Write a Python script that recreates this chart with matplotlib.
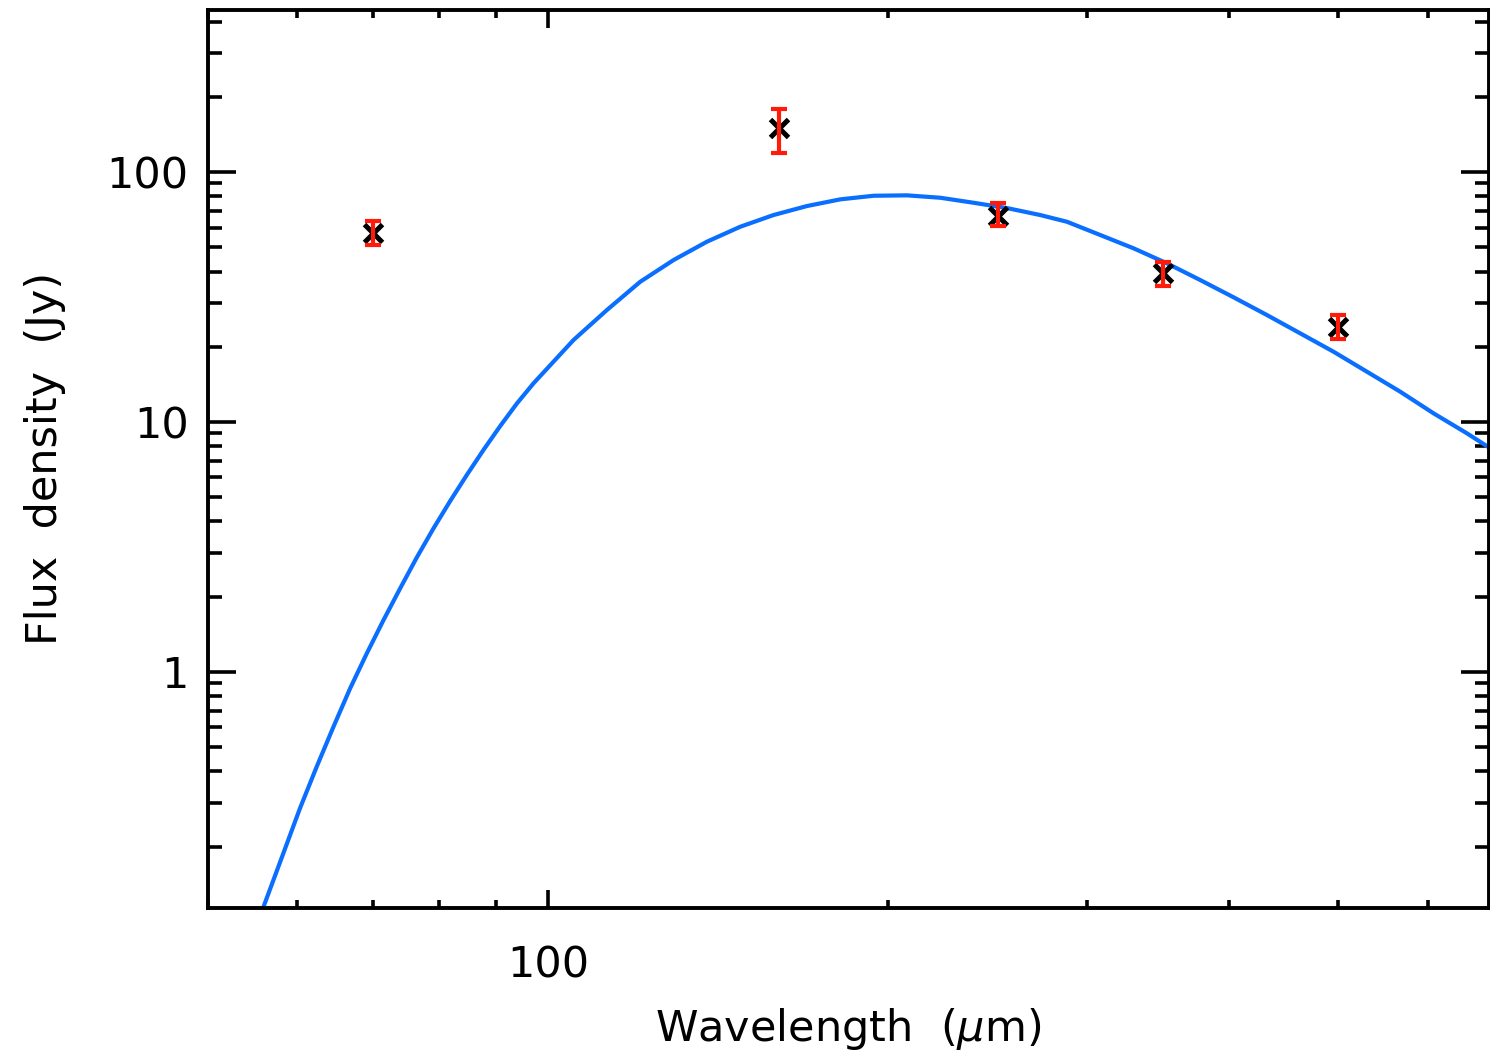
import matplotlib
matplotlib.use("Agg")
import matplotlib.pyplot as plt
from matplotlib.ticker import LogLocator, NullFormatter, FixedLocator, FixedFormatter

# measured photometry (wavelength in micron, flux in Jy)
wave = [70, 160, 250, 350, 500]
flux = [56.9, 149.9, 66.7, 39.3, 24.05]
flux_hi = [63.9, 178.2, 75.4, 43.8, 26.8]
flux_lo = [51.1, 119.5, 60.8, 35.0, 21.4]

# fitted model curve
model_wave = [55.97, 58.30, 60.31, 62.40, 64.57, 66.80, 69.11, 71.50, 73.97,
              76.51, 79.15, 81.90, 84.72, 87.64, 90.69, 93.82, 97.05, 105.29,
              112.70, 120.63, 129.10, 138.17, 147.89, 158.26, 169.40, 181.32,
              194.05, 207.72, 222.33, 237.89, 254.64, 272.54, 287.76, 308.01,
              329.63, 352.83, 377.57, 404.13, 432.53, 462.90, 495.49, 530.31,
              567.52, 607.40, 650.13, 681.70]
model_flux = [0.1145, 0.1883, 0.2850, 0.4181, 0.6042, 0.8605, 1.188, 1.614,
              2.162, 2.871, 3.750, 4.831, 6.138, 7.727, 9.638, 11.86, 14.28,
              21.28, 28.05, 36.40, 44.46, 52.63, 60.42, 67.30, 73.11, 77.76,
              80.39, 80.69, 78.92, 75.37, 71.78, 67.30, 63.27, 55.98, 49.53,
              43.13, 36.98, 31.54, 26.79, 22.63, 19.10, 15.89, 13.22, 10.83,
              9.01, 7.85]

xlim = (50.0, 680.0)
ylim = (0.1142, 445.0)

plt.rcParams["font.family"] = ["DejaVu Sans"]
plt.rcParams["mathtext.fontset"] = "dejavusans"

fig = plt.figure(figsize=(14.9, 10.6), dpi=100)
ax = fig.add_axes([208 / 1490, (1060 - 907.5) / 1060,
                   (1489 - 208) / 1490, (907.5 - 10) / 1060])

ax.plot(model_wave, model_flux, color="#0A6EFF", lw=3.0, zorder=2,
        solid_joinstyle="round")
ax.plot(wave, flux, ls="none", marker="x", ms=13, mew=3.6, color="black", zorder=3)
yerr = [[f - lo for f, lo in zip(flux, flux_lo)],
        [hi - f for f, hi in zip(flux, flux_hi)]]
ax.errorbar(wave, flux, yerr=yerr, fmt="none", ecolor="#FF1A0A", elinewidth=3.0,
            capsize=5.5, capthick=3.0, zorder=4)

ax.set_xscale("log")
ax.set_yscale("log")
ax.set_xlim(*xlim)
ax.set_ylim(*ylim)

ax.xaxis.set_major_locator(FixedLocator([100]))
ax.xaxis.set_major_formatter(FixedFormatter(["100"]))
ax.xaxis.set_minor_locator(LogLocator(base=10, subs=range(2, 10)))
ax.xaxis.set_minor_formatter(NullFormatter())
ax.yaxis.set_major_locator(FixedLocator([1, 10, 100]))
ax.yaxis.set_major_formatter(FixedFormatter(["1", "10", "100"]))
ax.yaxis.set_minor_locator(LogLocator(base=10, subs=range(2, 10)))
ax.yaxis.set_minor_formatter(NullFormatter())

for s in ax.spines.values():
    s.set_linewidth(2.8)

ax.tick_params(axis="both", which="both", direction="in", top=True, right=True,
               width=2.6, labelsize=31, colors="black")
ax.tick_params(axis="y", which="major", length=20, pad=14)
ax.tick_params(axis="y", which="minor", length=10)
ax.tick_params(axis="x", which="major", length=13, pad=27)
ax.tick_params(axis="x", which="minor", length=6)

ax.set_xlabel(r"Wavelength  ($\mu$m)", fontsize=31, labelpad=14)
ax.set_ylabel("Flux  density  (Jy)", fontsize=31, labelpad=29)

fig.savefig("out.png", dpi=100)
